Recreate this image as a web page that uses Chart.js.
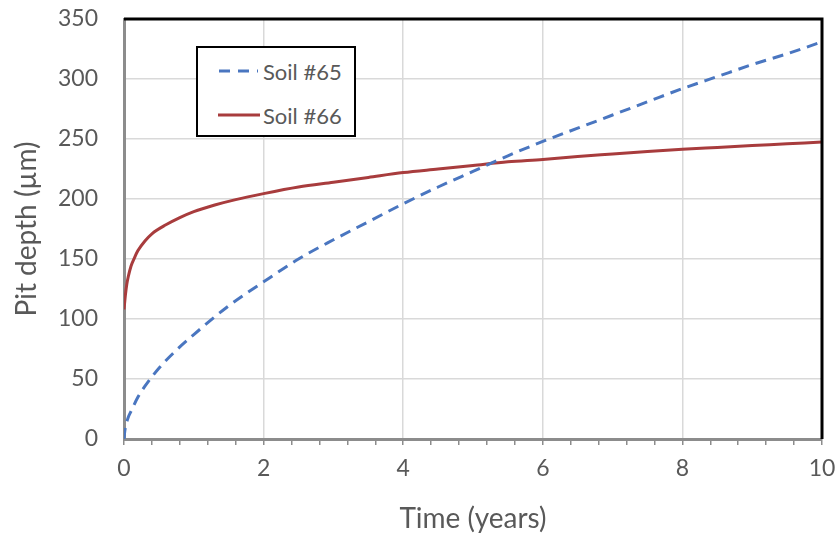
<!DOCTYPE html>
<html>
<head>
<meta charset="utf-8">
<script src="https://cdn.jsdelivr.net/npm/chart.js@4/dist/chart.umd.min.js"></script>
<style>
  html, body { margin: 0; padding: 0; background: #fff; }
  #wrap { position: relative; width: 837px; height: 537px; }
  #legend { position: absolute; left: 196px; top: 46px; width: 156px; height: 87px;
    border: 2px solid #000; background: #fff; font-family: Lato, sans-serif; font-size: 22px; color: #595959; }
  .item { position: absolute; left: 20px; height: 24px; display: flex; align-items: center; }
  .item svg { margin-right: 3px; }
</style>
</head>
<body>
<div id="wrap">
  <canvas id="c" width="837" height="537"></canvas>
  <div id="legend">
    <div class="item" style="top:11px"><svg width="42" height="6"><line x1="1" y1="3" x2="40" y2="3" stroke="#4A76C0" stroke-width="3" stroke-dasharray="11,8"/></svg><span>Soil #65</span></div>
    <div class="item" style="top:55px"><svg width="42" height="6"><line x1="0" y1="3" x2="42" y2="3" stroke="#A83C3D" stroke-width="3"/></svg><span>Soil #66</span></div>
  </div>
</div>
<script>
const seriesNames = ["Soil #65", "Soil #66"];
const soil65Time  = [0, 0.01, 0.03, 0.06, 0.1, 0.2, 0.3, 0.5, 0.75, 1, 1.5, 2, 2.5, 3, 3.5, 4, 4.5, 5, 5.5, 6, 6.5, 7, 7.5, 8, 8.5, 9, 9.5, 10];
const soil65Depth = [0, 6, 12, 18, 23, 35, 44, 59, 74, 87, 111, 131, 150, 166, 181, 196, 210, 223, 236, 248, 259, 270, 281, 292, 302, 312, 321, 331];
const soil66Time  = [0, 0.02, 0.04, 0.06, 0.1, 0.15, 0.2, 0.3, 0.4, 0.6, 0.8, 1, 1.3, 1.6, 2, 2.5, 3, 3.5, 4, 4.5, 5, 5.5, 6, 6.5, 7, 7.5, 8, 8.5, 9, 9.5, 10];
const soil66Depth = [108, 120, 129, 135, 144, 151, 157, 165, 171, 178.5, 184.5, 189.5, 195, 199.5, 204.5, 210, 214, 218, 222, 225, 228, 231, 233, 235.5, 237.5, 239.5, 241.5, 243, 244.5, 246, 247.5];
const xTickLabels = ["0", "2", "4", "6", "8", "10"];
const xTitle = "Time (years)";
const yTitle = "Pit depth (µm)";

const toPts = (xs, ys) => xs.map((x, i) => ({x: x, y: ys[i]}));
const isMajor = v => Math.abs(v / 2 - Math.round(v / 2)) < 1e-6;

const frame = {
  id: 'frame',
  afterDatasetsDraw(chart) {
    const a = chart.chartArea, ctx = chart.ctx;
    ctx.save();
    ctx.strokeStyle = '#000';
    ctx.lineWidth = 3;
    ctx.beginPath();
    ctx.moveTo(a.left, a.top);
    ctx.lineTo(a.right, a.top);
    ctx.lineTo(a.right, a.bottom);
    ctx.stroke();
    ctx.restore();
  }
};

new Chart(document.getElementById('c'), {
  type: 'line',
  data: {
    datasets: [
      { label: seriesNames[0], data: toPts(soil65Time, soil65Depth), borderColor: '#4A76C0',
        borderWidth: 3, borderDash: [11, 7], pointRadius: 0, cubicInterpolationMode: 'monotone', fill: false },
      { label: seriesNames[1], data: toPts(soil66Time, soil66Depth), borderColor: '#A83C3D',
        borderWidth: 3, pointRadius: 0, cubicInterpolationMode: 'monotone', fill: false }
    ]
  },
  options: {
    responsive: false,
    animation: false,
    layout: { padding: 0 },
    plugins: { legend: { display: false }, tooltip: { enabled: false } },
    scales: {
      x: {
        type: 'linear', min: 0, max: 10,
        afterFit: s => { s.height = 98; s.paddingLeft = 0; s.paddingRight = 15; },
        afterBuildTicks: s => { s.ticks = Array.from({length: 26}, (_, i) => ({value: Math.round(i * 4) / 10})); },
        ticks: {
          autoSkip: false, maxRotation: 0, padding: 10,
          color: '#595959', font: { family: 'Lato', size: 23 },
          callback: v => isMajor(v) ? xTickLabels[Math.round(v / 2)] : ''
        },
        grid: {
          color: c => (c.tick && isMajor(c.tick.value)) ? '#d9d9d9' : 'rgba(0,0,0,0)',
          tickColor: '#8c8c8c', tickLength: 6, lineWidth: 1.5
        },
        border: { color: '#8c8c8c', width: 3 },
        title: { display: true, text: xTitle, color: '#595959', font: { family: 'Lato', size: 28 }, padding: { top: 0, bottom: 1 } }
      },
      y: {
        min: 0, max: 350,
        afterFit: s => { s.width = 124; s.paddingTop = 19; s.paddingBottom = 0; },
        ticks: { stepSize: 50, padding: 26, color: '#595959', font: { family: 'Lato', size: 23 } },
        grid: { color: '#d9d9d9', lineWidth: 1.5, drawTicks: false },
        border: { color: '#8c8c8c', width: 3 },
        title: { display: true, text: yTitle, color: '#595959', font: { family: 'Lato', size: 28 }, padding: { top: 10, bottom: 0 } }
      }
    }
  },
  plugins: [frame]
});
</script>
</body>
</html>
